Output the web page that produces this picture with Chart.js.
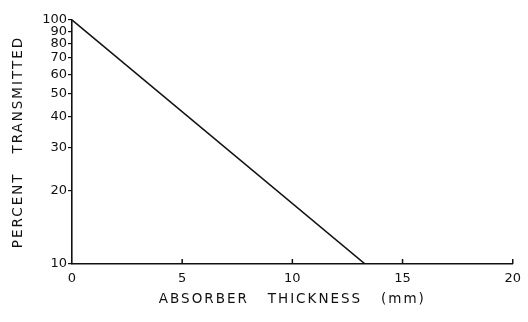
<!DOCTYPE html>
<html>
<head>
<meta charset="utf-8">
<script src="https://cdn.jsdelivr.net/npm/chart.js@4"></script>
<style>
  html, body { margin: 0; padding: 0; background: #fff; }
  #wrap { width: 528px; height: 322px; }
</style>
</head>
<body>
<div id="wrap"><canvas id="chart" width="528" height="322"></canvas></div>
<script>
// absorber thickness (mm) vs percent transmitted
const thickness = [0, 13.3];
const percent = [100, 10];
const xTickValues = [0, 5, 10, 15, 20];
const yTickValues = [10, 20, 30, 40, 50, 60, 70, 80, 90, 100];

const ink = '#111';
const tickFont = { family: 'DejaVu Sans', size: 13 };
const titleFont = { family: 'DejaVu Sans', size: 13.5 };

// spaced-out lettering for axis titles, like the typeset original
const spacedTitles = {
    id: 'spacedTitles',
    afterUpdate(chart) {
        Object.values(chart.scales).forEach(scale => {
            if (scale._spaced) return;
            const orig = scale.drawTitle;
            scale.drawTitle = function () {
                const ctx = this.ctx;
                ctx.save();
                ctx.letterSpacing = '2px';
                orig.call(this);
                ctx.restore();
            };
            scale._spaced = true;
        });
    }
};

// x tick marks point up into the plot
const innerTicks = {
    id: 'innerTicks',
    afterDraw(chart) {
        const { ctx, scales: { x } } = chart;
        ctx.save();
        ctx.strokeStyle = ink;
        ctx.lineWidth = 1.5;
        xTickValues.slice(1).forEach(v => {
            const px = x.getPixelForValue(v);
            ctx.beginPath();
            ctx.moveTo(px, x.top);
            ctx.lineTo(px, x.top - 5);
            ctx.stroke();
        });
        ctx.restore();
    }
};

new Chart(document.getElementById('chart'), {
    type: 'line',
    data: {
        datasets: [{
            data: thickness.map((t, i) => ({ x: t, y: percent[i] })),
            borderColor: ink,
            borderWidth: 1.6,
            pointRadius: 0,
            tension: 0,
            fill: false
        }]
    },
    options: {
        responsive: false,
        animation: false,
        layout: { padding: { top: 20, right: 11, left: 0, bottom: 0 } },
        plugins: { legend: { display: false }, tooltip: { enabled: false } },
        scales: {
            x: {
                type: 'linear',
                min: 0,
                max: 20,
                afterBuildTicks: s => { s.ticks = xTickValues.map(v => ({ value: v })); },
                afterFit: s => { s.height = 58; },
                ticks: { color: ink, font: tickFont, padding: 7, maxRotation: 0 },
                grid: { display: true, drawOnChartArea: false, drawTicks: false },
                border: { color: ink, width: 1.6 },
                title: {
                    display: true,
                    text: 'ABSORBER   THICKNESS   (mm)',
                    color: ink,
                    font: titleFont,
                    padding: { top: 0, bottom: 14 }
                }
            },
            y: {
                type: 'logarithmic',
                min: 10,
                max: 100,
                afterBuildTicks: s => { s.ticks = yTickValues.map(v => ({ value: v })); },
                afterFit: s => { s.width = 72; },
                ticks: { color: ink, font: tickFont, padding: 1, callback: v => String(v) },
                grid: { display: true, drawOnChartArea: false, tickLength: 4, color: ink, lineWidth: 1.2 },
                border: { color: ink, width: 1.6 },
                title: {
                    display: true,
                    text: 'PERCENT   TRANSMITTED',
                    color: ink,
                    font: titleFont,
                    padding: { top: 10, bottom: 0 }
                }
            }
        }
    },
    plugins: [spacedTitles, innerTicks]
});
</script>
</body>
</html>
